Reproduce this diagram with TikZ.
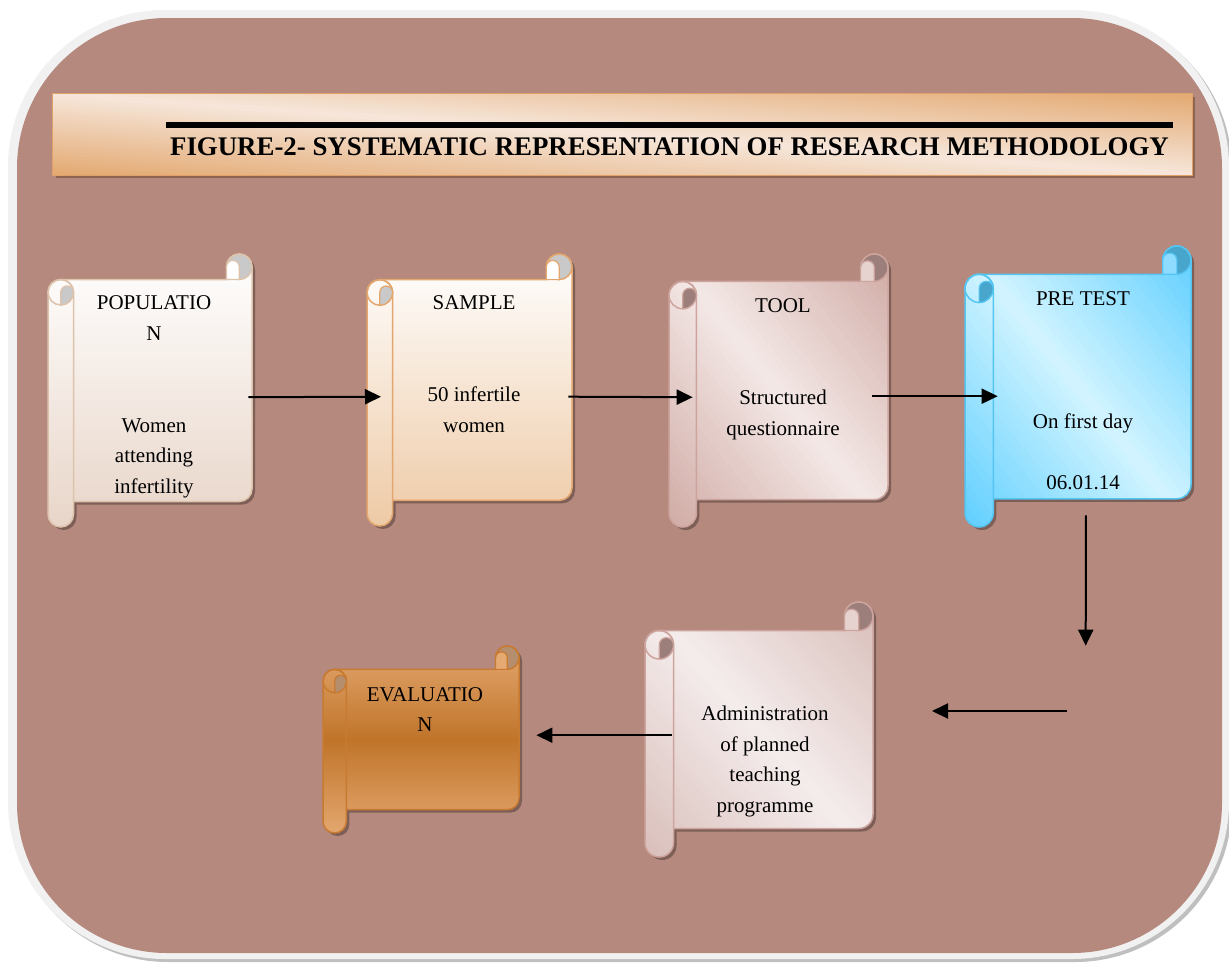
\documentclass[tikz,border=0pt]{standalone}
\usepackage{fontspec}
\setmainfont{Liberation Serif}
\usetikzlibrary{arrows.meta}

\definecolor{bgbrown}{HTML}{B5897D}
\definecolor{framegrey}{HTML}{F1F1F1}
\definecolor{bannerlight}{HTML}{F6E6DA}
\definecolor{bannerdark}{HTML}{E3A971}
\definecolor{bannerline}{HTML}{E0A06A}
\definecolor{bannershadow}{HTML}{8C6450}
% population
\definecolor{popbot}{HTML}{E8D5C8}
\definecolor{popline}{HTML}{DEC3AC}
\definecolor{popcurl}{HTML}{C9C9C9}
\definecolor{popnotch}{HTML}{FFFFFF}
% sample
\definecolor{smpbot}{HTML}{EECAA6}
\definecolor{smpline}{HTML}{E2A66E}
\definecolor{smpcurl}{HTML}{C9C9C9}
\definecolor{smpnotch}{HTML}{FFFFFF}
% tool
\definecolor{tooldark}{HTML}{D1ABA5}
\definecolor{toollight}{HTML}{F3E8E6}
\definecolor{toolline}{HTML}{CDA49D}
\definecolor{toolcurl}{HTML}{9C7F7A}
\definecolor{toolnotch}{HTML}{E6D2CE}
% pre test
\definecolor{predark}{HTML}{5FCFFF}
\definecolor{prelight}{HTML}{D2F4FF}
\definecolor{preline}{HTML}{55C5F2}
\definecolor{precurl}{HTML}{48A5CB}
\definecolor{prenotch}{HTML}{8EDCFF}
% administration
\definecolor{admdark}{HTML}{D9BEBA}
\definecolor{admlight}{HTML}{F4EDEC}
\definecolor{admline}{HTML}{CDA49D}
\definecolor{admcurl}{HTML}{9C7F7A}
\definecolor{admnotch}{HTML}{E6D2CE}
% evaluation
\definecolor{evallight}{HTML}{E3A76F}
\definecolor{evaldark}{HTML}{C0742A}
\definecolor{evalline}{HTML}{C77A30}
\definecolor{evalcurl}{HTML}{B58E6E}
\definecolor{evalnotch}{HTML}{E5A972}

% diagonal band: left, bottom, width, height, dark, light
\newcommand*{\diagfill}[6]{%
  \begin{scope}[shift={(#1,#2)}]
    \pgfmathsetmacro{\dlen}{veclen(#3,#4)}
    \pgfmathsetmacro{\ddist}{#3/\dlen*#4}
    \pgfmathsetmacro{\dnx}{#4/\dlen}
    \pgfmathsetmacro{\dny}{#3/\dlen}
    \pgfmathsetmacro{\dll}{#3+#4}
    \foreach \k in {-24,...,23} {
      \pgfmathsetmacro{\dsa}{\k*\ddist/24}
      \pgfmathsetmacro{\dsb}{\dsa+\ddist/24+0.8}
      \pgfmathsetmacro{\dmix}{100*abs(\k+0.5)/24}
      \fill[#5!\dmix!#6] ({#3/2+\dsa*\dnx+\dll*\dny},{#4/2+\dsa*\dny-\dll*\dnx})
        -- ({#3/2+\dsb*\dnx+\dll*\dny},{#4/2+\dsb*\dny-\dll*\dnx})
        -- ({#3/2+\dsb*\dnx-\dll*\dny},{#4/2+\dsb*\dny+\dll*\dnx})
        -- ({#3/2+\dsa*\dnx-\dll*\dny},{#4/2+\dsa*\dny+\dll*\dnx}) -- cycle;
    }
  \end{scope}}

% scroll: name, left, top, width, height, diagonal (0/1), shading
\newcommand*{\drawscroll}[7]{%
  \begin{scope}[shift={(#2,-#3-#5)}]
    \pgfmathsetmacro{\crl}{0.125*min(#4,#5)}
    \pgfmathsetmacro{\crlh}{\crl/2}
    \pgfmathsetmacro{\crlq}{\crl/4}
    \def\scrollbody{(\crlh,\crl) -- (#4-\crlh,\crl) arc[start angle=-90,end angle=0,radius=\crlh]
      -- (#4,#5-\crlh) arc[start angle=0,end angle=180,radius=\crlh]
      -- (#4-\crl,#5-\crl) -- (\crlh,#5-\crl) -- cycle}
    \def\scrolltube{(0,\crlh) arc[start angle=180,end angle=360,radius=\crlh]
      -- (\crl,#5-\crl-\crlh) arc[start angle=0,end angle=180,radius=\crlh] -- cycle}
    % shadow
    \fill[black,opacity=0.3,shift={(3,-3)}] \scrollbody \scrolltube;
    % fill
    \begin{scope}
      \clip \scrollbody \scrolltube;
      \ifnum#6=1
        \diagfill{0}{0}{#4}{#5}{#1dark}{#1light}
      \else
        \shade[#7] (0,0) rectangle (#4,#5);
      \fi
    \end{scope}
    % outline
    \draw[#1line,line width=1.5pt] (\crl,\crl) -- (#4-\crlh,\crl) arc[start angle=-90,end angle=0,radius=\crlh]
      -- (#4,#5-\crlh) arc[start angle=0,end angle=180,radius=\crlh]
      -- (#4-\crl,#5-\crl) -- (\crlh,#5-\crl);
    \draw[#1line,line width=1.5pt] \scrolltube;
    % curls
    \filldraw[fill=#1curl,draw=#1line,line width=1.5pt] (#4-\crlh,#5-\crlh) circle[radius=\crlh];
    \filldraw[fill=#1notch,draw=#1line,line width=1.2pt] (#4-\crl,#5-\crl) -- (#4-\crl,#5-\crlh)
      arc[start angle=180,end angle=0,radius=\crlq] -- (#4-\crlh,#5-\crl) -- cycle;
    \draw[#1line,line width=1.5pt] (\crlh,#5-\crl-\crlh) circle[radius=\crlh];
    \filldraw[fill=#1curl,draw=#1line,line width=1.2pt] (\crlh,#5-\crl-\crlh) arc[start angle=180,end angle=0,radius=\crlq]
      arc[start angle=0,end angle=-90,radius=\crlh] -- cycle;
  \end{scope}
  \node[inner sep=0pt,minimum width=#4,minimum height=#5,anchor=north west] (#1) at (#2,-#3) {};
}

\begin{document}
\begin{tikzpicture}
[
	x=1pt,y=1pt,
	arr/.style={-{Triangle[length=16pt,width=15pt]},line width=2pt},
	lbl/.style={font=\fontsize{21}{30.6}\selectfont,align=center,inner sep=0pt,anchor=base},
]

	\useasboundingbox (0,0) rectangle (1229,-962);
	\fill[white] (0,0) rectangle (1229,-962);

	% frame
	\fill[black,opacity=0.25,rounded corners=157] (11,-13) rectangle (1232,-962);
	\fill[framegrey,rounded corners=157] (8,-10) rectangle (1229,-959);
	\fill[bgbrown,rounded corners=150] (17,-18) rectangle (1222,-953);

	% title
	\node[inner sep=0pt,minimum width=1139,minimum height=81] (title) at (622.5,-134.5) {};
	\fill[bannershadow] ([shift={(3,-3)}]title.north west) rectangle ([shift={(3,-3)}]title.south east);
	\begin{scope}
		\clip (title.north west) rectangle (title.south east);
		\diagfill{53}{-175}{1139}{81}{bannerdark}{bannerlight}
	\end{scope}
	\draw[bannerline,line width=1pt] (title.north west) rectangle (title.south east);
	\draw[line width=5.5pt] (166,-125) -- (1173,-125);
	\node[font=\bfseries\fontsize{26.85}{30}\selectfont,inner sep=0pt,anchor=base] (titletext) at (669.5,-155)
		{FIGURE-2- SYSTEMATIC REPRESENTATION OF RESEARCH METHODOLOGY};

	% scrolls
	\drawscroll{pop}{48}{254}{204}{273}{0}{top color=white,bottom color=popbot}
	\drawscroll{smp}{367}{254}{205}{272}{0}{top color=white,bottom color=smpbot}
	\drawscroll{tool}{669}{254}{219}{273}{1}{}
	\drawscroll{pre}{965}{246}{226}{281}{1}{}
	\drawscroll{adm}{645}{602}{228}{255}{1}{}
	\drawscroll{eval}{323}{646}{196}{187}{0}{top color=evallight,bottom color=evallight,middle color=evaldark}

	% texts
	\node[lbl] (popT) at (154,-493.3) {POPULATIO\\N\\\\\\Women\\attending\\infertility};
	\node[lbl] (smpT) at (474,-432.3) {SAMPLE\\\\\\50 infertile\\women};
	\node[lbl] (toolT) at (783,-435) {TOOL\\\\\\Structured\\questionnaire};
	\node[lbl] (preT) at (1083,-489.3) {PRE TEST\\\\\\\\On first day\\\\06.01.14};
	\node[lbl] (admT) at (765,-812.3) {Administration\\of planned\\teaching\\programme};
	\node[lbl] (evalT) at (425,-731.7) {EVALUATIO\\N};

	% arrows
	\coordinate (downend) at (1085.7,-645.7);
	\coordinate (gapR) at (1067,-711);
	\coordinate (gapL) at (932,-711);
	\draw[arr] ([xshift=-4,yshift=-6.5]pop.east) -- ([xshift=14,yshift=-6.5]smp.west);
	\draw[arr] ([xshift=-4,yshift=-6.5]smp.east) -- ([xshift=23.7,yshift=-6.5]tool.west);
	\draw[arr] ([xshift=-16.3,yshift=-5.5]tool.east) -- ([xshift=32.7,yshift=-9.5]pre.west);
	\draw[arr] ([xshift=7.7,yshift=12]pre.south) -- (downend);
	\draw[arr] (gapR) -- (gapL);
	\draw[arr] ([xshift=27,yshift=-5.5]adm.west) -- ([xshift=17,yshift=4.5]eval.east);

\end{tikzpicture}
\end{document}
